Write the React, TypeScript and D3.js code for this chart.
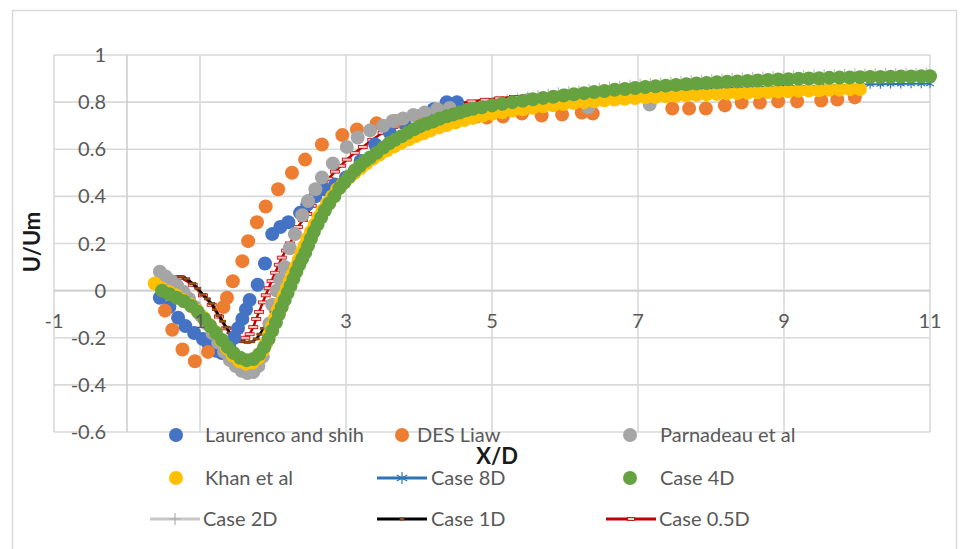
import React from 'react';
import * as d3 from 'd3';

type P = [number, number];

const xTicks = [-1, 1, 3, 5, 7, 9, 11];
const yTicks = [-0.6, -0.4, -0.2, 0, 0.2, 0.4, 0.6, 0.8, 1];
const xTitle = 'X/D';
const yTitle = 'U/Um';

const laurenco: P[] = [
  [0.45, -0.03], [0.58, -0.07], [0.70, -0.115], [0.80, -0.15], [0.92, -0.18], [1.04, -0.205],
  [1.12, -0.23], [1.22, -0.255], [1.30, -0.265], [1.40, -0.235], [1.47, -0.20], [1.52, -0.16],
  [1.58, -0.12], [1.63, -0.08], [1.68, -0.04], [1.79, 0.025], [1.89, 0.115], [1.99, 0.24],
  [2.10, 0.27], [2.21, 0.29], [2.37, 0.33], [2.47, 0.365], [2.58, 0.40], [2.71, 0.43],
  [2.85, 0.45], [3.0, 0.48], [3.2, 0.55], [3.4, 0.62], [3.6, 0.67], [3.8, 0.71], [4.0, 0.74],
  [4.2, 0.77], [4.38, 0.80], [4.52, 0.80],
];

const desLiaw: P[] = [
  [0.52, -0.085], [0.62, -0.166], [0.76, -0.25], [0.93, -0.30], [1.11, -0.26], [1.32, -0.07],
  [1.37, -0.03], [1.45, 0.04], [1.58, 0.125], [1.66, 0.21], [1.78, 0.29], [1.90, 0.357],
  [2.07, 0.43], [2.26, 0.50], [2.44, 0.556], [2.67, 0.62], [2.95, 0.66], [3.15, 0.684],
  [3.42, 0.71], [3.68, 0.72], [4.05, 0.735], [4.45, 0.74], [4.79, 0.739], [4.93, 0.735],
  [5.15, 0.739], [5.41, 0.752], [5.68, 0.743], [5.96, 0.747], [6.23, 0.756], [6.38, 0.752],
  [7.47, 0.773], [7.70, 0.773], [7.93, 0.773], [8.19, 0.786], [8.42, 0.798], [8.67, 0.798],
  [8.92, 0.803], [9.18, 0.803], [9.51, 0.807], [9.73, 0.811], [9.97, 0.82],
];

const parnadeau: P[] = [
  [0.45, 0.08], [0.53, 0.06], [0.61, 0.04], [0.69, 0.02], [0.77, -0.005], [0.85, -0.035],
  [0.93, -0.07], [1.01, -0.105], [1.09, -0.14], [1.17, -0.18], [1.25, -0.22], [1.33, -0.26],
  [1.41, -0.295], [1.49, -0.32], [1.57, -0.34], [1.65, -0.35], [1.73, -0.345], [1.80, -0.32],
  [1.86, -0.28], [1.91, -0.22], [1.95, -0.14], [1.99, -0.06], [2.05, 0.0], [2.10, 0.047],
  [2.16, 0.10], [2.23, 0.18], [2.30, 0.24], [2.40, 0.32], [2.48, 0.38], [2.58, 0.43],
  [2.67, 0.48], [2.82, 0.54], [3.01, 0.61], [3.16, 0.65], [3.33, 0.68], [3.51, 0.70],
  [3.64, 0.72], [3.78, 0.73], [3.92, 0.745], [4.08, 0.756], [4.25, 0.77], [4.42, 0.775],
  [5.0, 0.786], [5.5, 0.81], [6.0, 0.828], [6.32, 0.777], [6.7, 0.85], [7.16, 0.79],
];

const khan: P[] = [
  [0.38, 0.03], [0.47, 0.01], [0.57, -0.005], [0.67, -0.02], [0.77, -0.04], [0.87, -0.06],
  [0.96, -0.085], [1.05, -0.115], [1.13, -0.145], [1.21, -0.175], [1.29, -0.21], [1.37, -0.245],
  [1.45, -0.275], [1.54, -0.30], [1.63, -0.31], [1.72, -0.305], [1.80, -0.285], [1.86, -0.255],
  [1.91, -0.22], [1.95, -0.185], [1.99, -0.15], [2.03, -0.115], [2.07, -0.08], [2.11, -0.05],
  [2.15, -0.02], [2.19, 0.01], [2.23, 0.04], [2.27, 0.07], [2.31, 0.10], [2.35, 0.13],
  [2.39, 0.16], [2.43, 0.19], [2.47, 0.22], [2.52, 0.25], [2.57, 0.28], [2.62, 0.31],
  [2.68, 0.34], [2.74, 0.37], [2.81, 0.40], [2.88, 0.43], [2.96, 0.455], [3.04, 0.48],
  [3.12, 0.50], [3.20, 0.52], [3.28, 0.54], [3.37, 0.56], [3.46, 0.578], [3.56, 0.596],
  [3.66, 0.613], [3.76, 0.628], [3.86, 0.642], [3.96, 0.656], [4.06, 0.668], [4.16, 0.68],
  [4.27, 0.692], [4.38, 0.703], [4.50, 0.714], [4.62, 0.724], [4.74, 0.733], [4.87, 0.742],
  [5.0, 0.75], [5.14, 0.757], [5.28, 0.764], [5.42, 0.77], [5.56, 0.776], [5.70, 0.782],
  [5.84, 0.787], [5.98, 0.792], [6.12, 0.796], [6.26, 0.80], [6.40, 0.804], [6.54, 0.808],
  [6.68, 0.811], [6.82, 0.814], [6.96, 0.817], [7.10, 0.82], [7.24, 0.822], [7.38, 0.825],
  [7.52, 0.827], [7.66, 0.829], [7.80, 0.831], [7.94, 0.833], [8.08, 0.835], [8.22, 0.837],
  [8.36, 0.838], [8.50, 0.84], [8.64, 0.842], [8.78, 0.843], [8.92, 0.845], [9.06, 0.846],
  [9.20, 0.848], [9.34, 0.849], [9.48, 0.85], [9.62, 0.852], [9.76, 0.853], [9.90, 0.855],
  [10.04, 0.856],
];

const case4D: P[] = [
  [0.48, 0.0], [0.58, -0.015], [0.68, -0.03], [0.78, -0.045], [0.88, -0.065], [0.97, -0.09],
  [1.06, -0.12], [1.14, -0.15], [1.22, -0.18], [1.30, -0.21], [1.38, -0.24], [1.46, -0.265],
  [1.55, -0.285], [1.64, -0.295], [1.73, -0.29], [1.81, -0.27], [1.88, -0.24], [1.94, -0.205],
  [1.99, -0.17], [2.04, -0.135], [2.08, -0.10], [2.12, -0.07], [2.16, -0.04], [2.20, -0.01],
  [2.24, 0.02], [2.28, 0.05], [2.32, 0.08], [2.36, 0.11], [2.40, 0.135], [2.44, 0.16],
  [2.48, 0.19], [2.52, 0.22], [2.56, 0.25], [2.61, 0.28], [2.66, 0.31], [2.71, 0.34],
  [2.77, 0.37], [2.84, 0.40], [2.91, 0.435], [2.98, 0.46], [3.05, 0.485], [3.12, 0.51],
  [3.19, 0.53], [3.26, 0.55], [3.33, 0.565], [3.42, 0.585], [3.51, 0.607], [3.59, 0.625],
  [3.67, 0.64], [3.76, 0.655], [3.84, 0.67], [3.93, 0.685], [4.01, 0.697], [4.10, 0.708],
  [4.19, 0.718], [4.28, 0.729], [4.38, 0.74], [4.47, 0.748], [4.56, 0.756], [4.65, 0.765],
  [4.74, 0.772], [4.86, 0.778], [5.0, 0.786], [5.14, 0.793], [5.28, 0.80], [5.42, 0.806],
  [5.56, 0.812], [5.70, 0.818], [5.84, 0.823], [5.98, 0.828], [6.12, 0.833], [6.26, 0.838],
  [6.40, 0.843], [6.54, 0.847], [6.68, 0.852], [6.82, 0.856], [6.96, 0.86], [7.10, 0.864],
  [7.24, 0.867], [7.38, 0.87], [7.52, 0.873], [7.66, 0.876], [7.80, 0.879], [7.94, 0.881],
  [8.08, 0.884], [8.22, 0.886], [8.36, 0.888], [8.50, 0.89], [8.64, 0.892], [8.78, 0.894],
  [8.92, 0.896], [9.06, 0.897], [9.20, 0.899], [9.34, 0.90], [9.48, 0.901], [9.62, 0.903],
  [9.76, 0.904], [9.90, 0.905], [10.04, 0.906], [10.18, 0.907], [10.32, 0.907], [10.46, 0.908],
  [10.60, 0.909], [10.74, 0.909], [10.88, 0.91], [11.0, 0.91],
];

const case8D: P[] = [
  [0.5, 0.0], [0.8, -0.05], [1.1, -0.13], [1.4, -0.245], [1.6, -0.285], [1.75, -0.285],
  [1.9, -0.225], [2.05, -0.13], [2.2, -0.01], [2.35, 0.1], [2.5, 0.205], [2.7, 0.335],
  [2.9, 0.43], [3.2, 0.53], [3.5, 0.6], [3.8, 0.66], [4.1, 0.705], [4.5, 0.745], [5.0, 0.775],
  [5.5, 0.8], [6.0, 0.82], [6.5, 0.835], [7.0, 0.845], [7.5, 0.852], [8.0, 0.858], [8.5, 0.863],
  [9.0, 0.867], [9.5, 0.87], [9.9, 0.873], [10.04, 0.875], [10.18, 0.876], [10.32, 0.876],
  [10.46, 0.877], [10.60, 0.877], [10.74, 0.878], [10.88, 0.878], [11.0, 0.878],
];

const case2D: P[] = [
  [0.5, 0.0], [0.8, -0.045], [1.1, -0.13], [1.4, -0.24], [1.6, -0.28], [1.8, -0.265],
  [2.0, -0.16], [2.2, -0.01], [2.4, 0.13], [2.6, 0.27], [2.8, 0.385], [3.0, 0.465],
  [3.3, 0.56], [3.6, 0.63], [3.9, 0.68], [4.2, 0.72], [4.5, 0.755], [4.67, 0.788],
  [4.81, 0.795], [4.93, 0.802], [5.07, 0.81], [5.21, 0.816], [5.35, 0.823], [5.49, 0.829],
  [5.63, 0.835], [5.77, 0.84], [5.91, 0.846], [6.05, 0.85], [6.19, 0.855], [6.33, 0.86],
  [6.47, 0.865], [6.61, 0.87], [6.75, 0.874], [6.89, 0.878], [7.03, 0.882], [7.17, 0.885],
  [7.31, 0.888], [7.45, 0.891], [7.59, 0.894], [7.73, 0.897], [7.87, 0.90], [8.01, 0.902],
  [8.15, 0.905], [8.29, 0.907], [8.43, 0.909], [8.57, 0.911], [8.71, 0.913], [8.85, 0.915],
  [8.99, 0.916], [9.13, 0.918], [9.27, 0.919], [9.41, 0.921], [9.55, 0.922], [9.69, 0.923],
  [9.83, 0.925], [9.97, 0.926], [10.11, 0.927], [10.25, 0.927], [10.39, 0.928], [10.53, 0.928],
  [10.67, 0.929], [10.81, 0.93], [10.95, 0.93],
];

const case1D: P[] = [
  [0.58, 0.045], [0.66, 0.058], [0.74, 0.06], [0.82, 0.05], [0.90, 0.03], [0.97, 0.01],
  [1.04, -0.017], [1.10, -0.035], [1.16, -0.055], [1.21, -0.08], [1.26, -0.105], [1.31, -0.13],
  [1.36, -0.155], [1.41, -0.18], [1.46, -0.198], [1.52, -0.21], [1.58, -0.217], [1.65, -0.219],
  [1.71, -0.217], [1.77, -0.205], [1.82, -0.185], [1.87, -0.16], [1.93, -0.13], [2.0, -0.09],
  [2.08, -0.04], [2.16, 0.01], [2.25, 0.07], [2.35, 0.13], [2.45, 0.19], [2.55, 0.25],
  [2.65, 0.31], [2.8, 0.39], [3.0, 0.46], [3.3, 0.55], [3.6, 0.62], [4.0, 0.69], [4.5, 0.74],
  [5.0, 0.78], [6.0, 0.825], [7.0, 0.858], [8.0, 0.881], [9.0, 0.894], [10.0, 0.903], [11.0, 0.908],
];

const case05D: P[] = [
  [0.58, 0.04], [0.74, 0.055], [0.90, 0.025], [1.04, -0.02], [1.16, -0.06], [1.26, -0.11],
  [1.36, -0.16], [1.46, -0.2], [1.55, -0.205], [1.62, -0.2], [1.68, -0.185], [1.73, -0.155],
  [1.77, -0.12], [1.81, -0.09], [1.86, -0.05], [1.90, -0.02], [1.94, 0.01], [1.98, 0.04],
  [2.03, 0.076], [2.08, 0.11], [2.12, 0.14], [2.18, 0.17], [2.23, 0.2], [2.29, 0.235],
  [2.34, 0.27], [2.41, 0.30], [2.47, 0.325], [2.53, 0.36], [2.60, 0.40], [2.68, 0.44],
  [2.76, 0.475], [2.85, 0.505], [2.93, 0.53], [3.01, 0.556], [3.12, 0.585], [3.23, 0.61],
  [3.36, 0.64], [3.5, 0.67], [3.65, 0.695], [3.8, 0.72], [3.95, 0.74], [4.1, 0.757],
  [4.25, 0.772], [4.4, 0.784], [4.56, 0.795], [4.72, 0.803], [4.9, 0.81], [5.1, 0.816],
  [5.3, 0.822], [5.5, 0.826], [5.7, 0.83], [6.0, 0.837], [6.5, 0.85], [7.0, 0.862],
  [7.5, 0.872], [8.0, 0.882], [8.5, 0.887], [9.0, 0.892], [9.5, 0.896], [10.0, 0.9],
  [10.5, 0.903], [11.0, 0.905],
];

const C = {
  blue: '#4472C4',
  orange: '#ED7D31',
  gray: '#A5A5A5',
  yellow: '#FFC000',
  green: '#67A241',
  c8: '#2E75B6',
  c2: '#C8C8C8',
  c1: '#000000',
  c05: '#C00000',
  grid: '#D9D9D9',
  text: '#595959',
};

const FONT = "Lato, 'Open Sans', sans-serif";
const R = 7;

const fmt = (t: number) => String(Math.round(t * 10) / 10);

function Asterisk({ cx, cy, s = 4.5, color }: { cx: number; cy: number; s?: number; color: string }) {
  const d = `M${cx},${cy - s}L${cx},${cy + s}M${cx - s * 0.87},${cy - s * 0.5}L${cx + s * 0.87},${cy + s * 0.5}M${cx - s * 0.87},${cy + s * 0.5}L${cx + s * 0.87},${cy - s * 0.5}`;
  return <path d={d} stroke={color} strokeWidth={1.2} fill="none" />;
}

function Plus({ cx, cy, s = 4, color }: { cx: number; cy: number; s?: number; color: string }) {
  return <path d={`M${cx},${cy - s}L${cx},${cy + s}M${cx - s},${cy}L${cx + s},${cy}`} stroke={color} strokeWidth={1.2} fill="none" />;
}

function Dash({ cx, cy, w, h, fill, stroke }: { cx: number; cy: number; w: number; h: number; fill: string; stroke: string }) {
  return <rect x={cx - w / 2} y={cy - h / 2} width={w} height={h} fill={fill} stroke={stroke} strokeWidth={0.8} />;
}

export default function App() {
  const x = d3.scaleLinear().domain([-1, 11]).range([54, 930]);
  const y = d3.scaleLinear().domain([-0.6, 1]).range([432, 55]);
  const line = d3.line<P>().x((d) => x(d[0])).y((d) => y(d[1]));

  const scatter = (data: P[], color: string, key: string) => (
    <g key={key}>
      {data.map((d, i) => (
        <circle key={i} cx={x(d[0])} cy={y(d[1])} r={R} fill={color} />
      ))}
    </g>
  );

  const rowY = [435, 478, 519];
  const legendItems: { name: string; kind: string; color: string; sx: number; tx: number; row: number }[] = [
    { name: 'Laurenco and shih', kind: 'dot', color: C.blue, sx: 176, tx: 205, row: 0 },
    { name: 'DES Liaw', kind: 'dot', color: C.orange, sx: 402, tx: 417, row: 0 },
    { name: 'Parnadeau et al', kind: 'dot', color: C.gray, sx: 630, tx: 660, row: 0 },
    { name: 'Khan et al', kind: 'dot', color: C.yellow, sx: 176, tx: 205, row: 1 },
    { name: 'Case 8D', kind: 'c8', color: C.c8, sx: 402, tx: 431, row: 1 },
    { name: 'Case 4D', kind: 'dot', color: C.green, sx: 630, tx: 660, row: 1 },
    { name: 'Case 2D', kind: 'c2', color: C.c2, sx: 175, tx: 203, row: 2 },
    { name: 'Case 1D', kind: 'c1', color: C.c1, sx: 402, tx: 431, row: 2 },
    { name: 'Case 0.5D', kind: 'c05', color: C.c05, sx: 631, tx: 659, row: 2 },
  ];

  return (
    <svg width={961} height={549} style={{ position: 'absolute', left: 0, top: 0, background: '#fff' }} fontFamily={FONT}>
      <rect x={0} y={0} width={961} height={549} fill="#fff" />
      <rect x={12.5} y={10.5} width={944} height={560} fill="none" stroke="#D9D9D9" strokeWidth={1.5} />

      {/* gridlines */}
      {yTicks.map((t) => (
        <line key={'gy' + t} x1={x(-1)} x2={x(11)} y1={y(t)} y2={y(t)} stroke={C.grid} strokeWidth={1.6} />
      ))}
      {xTicks.map((t) => (
        <line key={'gx' + t} x1={x(t)} x2={x(t)} y1={y(1)} y2={y(-0.6)} stroke={C.grid} strokeWidth={1.6} />
      ))}
      {/* axes crossing at 0 */}
      <line x1={x(0)} x2={x(0)} y1={y(1)} y2={y(-0.6)} stroke="#CFCFCF" strokeWidth={1.6} />
      <line x1={x(-1)} x2={x(11)} y1={y(0)} y2={y(0)} stroke="#CFCFCF" strokeWidth={1.6} />

      {/* y tick labels */}
      {yTicks.map((t) => (
        <text key={'ly' + t} x={106} y={y(t)} dy="0.35em" textAnchor="end" fontSize={20} fill={C.text}>
          {fmt(t)}
        </text>
      ))}

      {/* line series */}
      <path d={line(case8D) || ''} fill="none" stroke={C.c8} strokeWidth={2} />
      {case8D.map((d, i) => (
        <Asterisk key={'a' + i} cx={x(d[0])} cy={y(d[1])} color={C.c8} />
      ))}
      <path d={line(case2D) || ''} fill="none" stroke={C.c2} strokeWidth={2} />
      {case2D.map((d, i) => (
        <Plus key={'p' + i} cx={x(d[0])} cy={y(d[1])} color="#BDBDBD" />
      ))}
      <path d={line(case05D) || ''} fill="none" stroke={C.c05} strokeWidth={2.5} />
      {case05D.map((d, i) => (
        <Dash key={'r' + i} cx={x(d[0])} cy={y(d[1])} w={9} h={3} fill="#F4C7C3" stroke={C.c05} />
      ))}
      <path d={line(case1D) || ''} fill="none" stroke={C.c1} strokeWidth={2.5} />
      {case1D.map((d, i) => (
        <Dash key={'b' + i} cx={x(d[0])} cy={y(d[1])} w={6} h={2} fill="#A0522D" stroke="#7B3F00" />
      ))}

      {/* scatter series */}
      {scatter(laurenco, C.blue, 'lau')}
      {scatter(desLiaw, C.orange, 'des')}
      {scatter(parnadeau, C.gray, 'par')}
      {scatter(khan, C.yellow, 'kha')}
      {scatter(case4D, C.green, 'c4')}

      {/* x tick labels (on top) */}
      {xTicks.map((t) => (
        <text key={'lx' + t} x={x(t)} y={y(0) + 30} dy="0.35em" textAnchor="middle" fontSize={20} fill={C.text}>
          {fmt(t)}
        </text>
      ))}

      {/* axis titles */}
      <text x={497} y={456} dy="0.35em" textAnchor="middle" fontSize={22} fontWeight="bold" fill="#1a1a1a">
        {xTitle}
      </text>
      <text transform={`translate(32,242) rotate(-90)`} dy="0.35em" textAnchor="middle" fontSize={22} fontWeight="bold" fill="#1a1a1a">
        {yTitle}
      </text>

      {/* legend */}
      {legendItems.map((it) => {
        const cy = rowY[it.row];
        let sym: React.ReactNode = null;
        if (it.kind === 'dot') sym = <circle cx={it.sx} cy={cy} r={7} fill={it.color} />;
        else {
          const lineEl = <line x1={it.sx - 25} x2={it.sx + 25} y1={cy} y2={cy} stroke={it.color} strokeWidth={3} />;
          let mk: React.ReactNode = null;
          if (it.kind === 'c8') mk = <Asterisk cx={it.sx} cy={cy} s={6} color={it.color} />;
          if (it.kind === 'c2') mk = <Plus cx={it.sx} cy={cy} s={6} color="#B0B0B0" />;
          if (it.kind === 'c1') mk = <Dash cx={it.sx} cy={cy} w={4} h={2} fill="#A0522D" stroke="#7B3F00" />;
          if (it.kind === 'c05') mk = <Dash cx={it.sx} cy={cy} w={7} h={3} fill="#D9D9D9" stroke={C.c05} />;
          sym = (
            <g>
              {lineEl}
              {mk}
            </g>
          );
        }
        return (
          <g key={it.name}>
            {sym}
            <text x={it.tx} y={cy} dy="0.35em" fontSize={20} fill={C.text}>
              {it.name}
            </text>
          </g>
        );
      })}
    </svg>
  );
}
